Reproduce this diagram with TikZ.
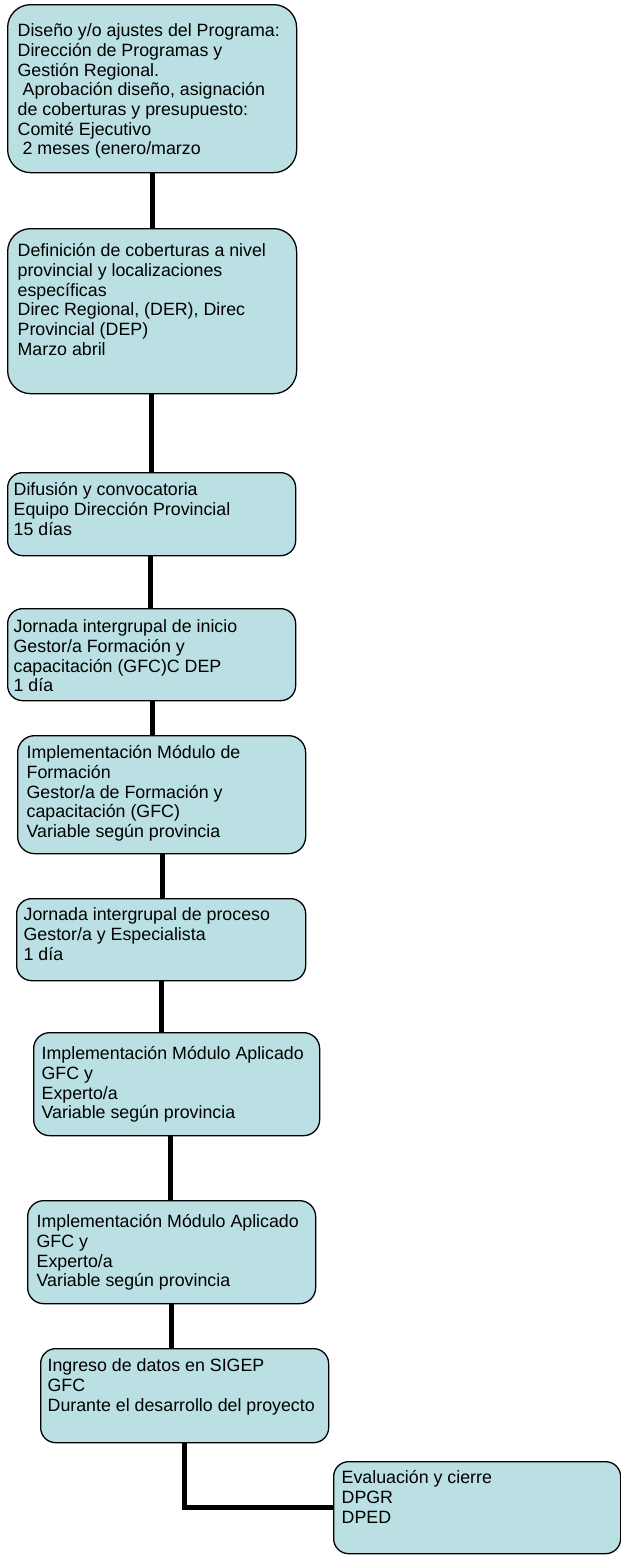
\documentclass[tikz,border=0pt]{standalone}
\usepackage{fontspec}
\setmainfont{Liberation Sans}
\usepackage{tikz}
\usepackage{xcolor}
\definecolor{celeste}{RGB}{186,224,227}

% texto de cada paso: ancho, alto, sangria, primera linea, texto
\newcommand{\pasotexto}[5]{\hspace*{#3}\parbox[c][#2][t]{\dimexpr#1-#3\relax}{\raggedright\rule{0pt}{#4}#5}}

\tikzset{
  caja/.style={draw=black, line width=1.3pt, fill=celeste, rounded corners=15pt,
    anchor=north west, inner sep=0pt, font=\fontsize{17.8pt}{19.7pt}\selectfont},
  linea/.style={line width=5pt, black}
}

\begin{document}
\begin{tikzpicture}[x=1pt,y=-1pt]
\useasboundingbox (0,0) rectangle (621,1561);

\node[caja, rounded corners=23pt] (b1) at (7,4) {\pasotexto{289pt}{168pt}{10pt}{32pt}{Diseño y/o ajustes del Programa:\\ Dirección de Programas y\\ Gestión Regional.\\ \hspace*{0.28em}Aprobación diseño, asignación\\ de coberturas y presupuesto:\\ Comité Ejecutivo\\ \hspace*{0.28em}2 meses (enero/marzo}};
\node[caja, rounded corners=23pt] (b2) at (7,228) {\pasotexto{289pt}{165pt}{10pt}{28pt}{Definición de coberturas a nivel\\ provincial y localizaciones\\ específicas\\ Direc Regional, (DER), Direc\\ Provincial (DEP)\\ Marzo abril}};
\node[caja] (b3) at (7,472) {\pasotexto{288pt}{83pt}{6pt}{23pt}{Difusión y convocatoria\\ Equipo Dirección Provincial\\ 15 días}};
\node[caja] (b4) at (7,608) {\pasotexto{288pt}{92pt}{6pt}{24pt}{Jornada intergrupal de inicio\\ Gestor/a Formación y\\ capacitación (GFC)C DEP\\ 1 día}};
\node[caja, rounded corners=17pt] (b5) at (17,735) {\pasotexto{288pt}{118pt}{9pt}{23pt}{Implementación Módulo de\\ Formación\\ Gestor/a de Formación y\\ capacitación (GFC)\\ Variable según provincia}};
\node[caja] (b6) at (16,898) {\pasotexto{289pt}{82pt}{7pt}{22pt}{Jornada intergrupal de proceso\\ Gestor/a y Especialista\\ 1 día}};
\node[caja, rounded corners=16pt] (b7) at (33,1032) {\pasotexto{286pt}{103pt}{8pt}{27pt}{Implementación Módulo Aplicado\\ GFC y\\ Experto/a\\ Variable según provincia}};
\node[caja, rounded corners=16pt] (b8) at (27,1200) {\pasotexto{288pt}{103pt}{9pt}{27pt}{Implementación Módulo Aplicado\\ GFC y\\ Experto/a\\ Variable según provincia}};
\node[caja] (b9) at (40,1348) {\pasotexto{288pt}{94pt}{7pt}{23pt}{Ingreso de datos en SIGEP\\ GFC\\ Durante el desarrollo del proyecto}};
\node[caja] (b10) at (333,1461) {\pasotexto{287pt}{92pt}{8pt}{22pt}{Evaluación y cierre\\ DPGR\\ DPED}};

% uniones
\foreach \a/\b/\x in {b1/b2/152, b2/b3/151, b3/b4/150, b4/b5/152, b5/b6/162, b6/b7/161, b7/b8/170, b8/b9/171}{
  \draw[linea] (\a.south -| \x,0) -- (\b.north -| \x,0);
}
\draw[linea] (b9.south -| 184,0) |- (b10.west);

\end{tikzpicture}
\end{document}
